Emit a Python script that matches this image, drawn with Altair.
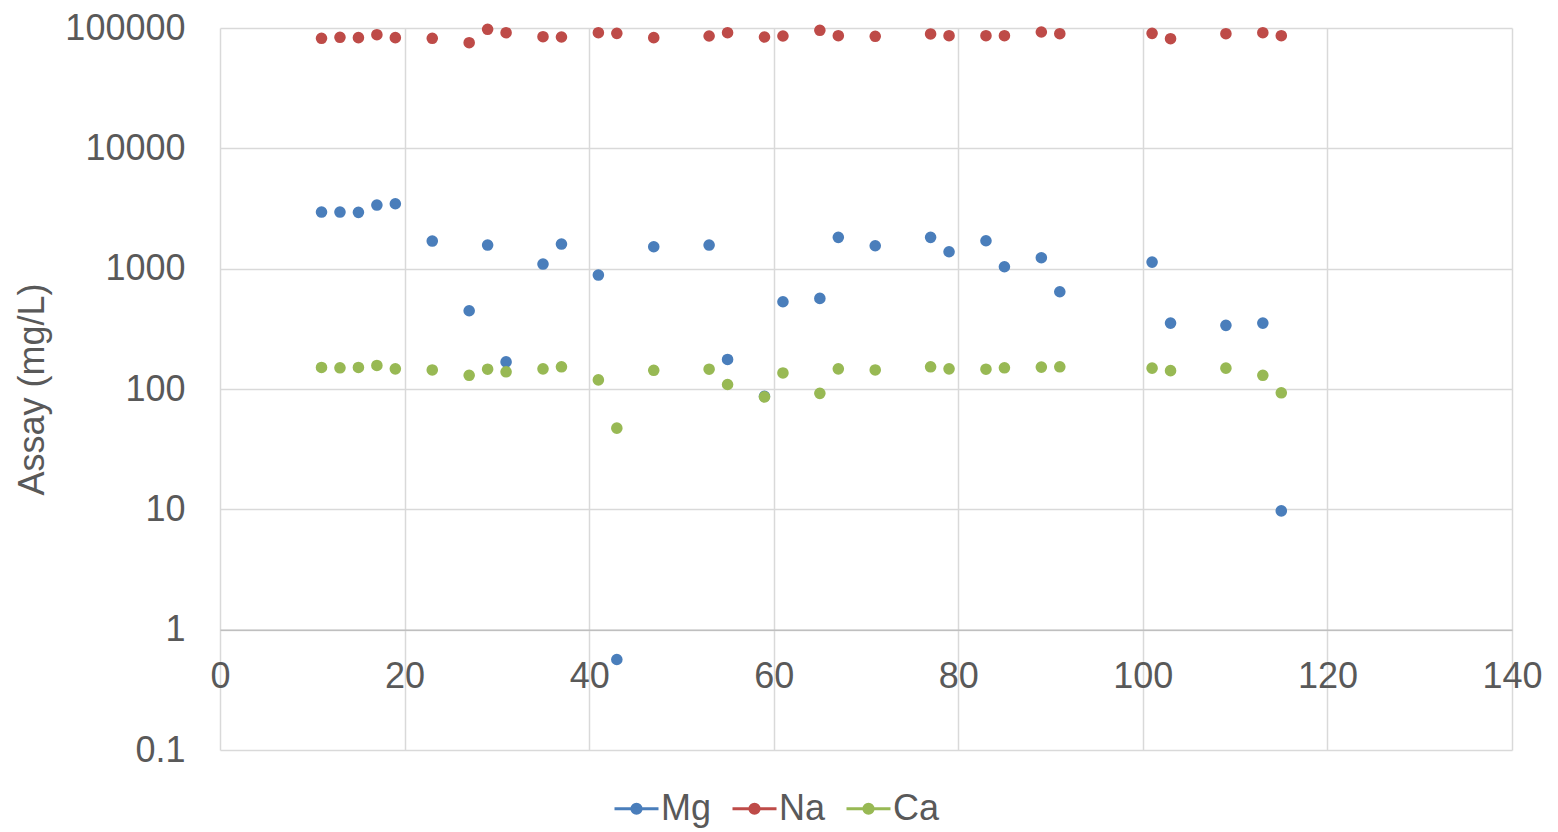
import altair as alt
import pandas as pd

# ---- data ----
x_vals = [11, 13, 15, 17, 19, 23, 27, 29, 31, 35, 37, 41, 43, 47, 53, 55, 59, 61,
          65, 67, 71, 77, 79, 83, 85, 89, 91, 101, 103, 109, 113, 115]
mg = [2954, 2954, 2938, 3379, 3463, 1696, 447, 1571, 168, 1092, 1602, 885, 0.565,
      1521, 1571, 176, 87, 531, 566, 1820, 1550, 1820, 1382, 1706, 1037, 1232, 643,
      1134, 353, 338, 353, 9.7]
na = [82100, 83700, 83100, 88000, 83100, 82100, 75500, 97500, 91400, 84700, 84200,
      91400, 90300, 83100, 85800, 91400, 84200, 85800, 95700, 86300, 85300, 89200,
      86300, 86300, 86300, 92600, 89700, 90300, 81500, 89700, 91400, 86300]
ca = [151, 150, 151, 157, 147, 144, 130, 146, 139, 147, 153, 119, 47.3, 143, 146,
      109, 86, 136, 92, 147, 144, 153, 147, 146, 150, 152, 153, 149, 142, 149, 130, 93]

series = ["Mg", "Na", "Ca"]
colors = ["#4a7ebb", "#be4b48", "#98b954"]
x_ticks = [0, 20, 40, 60, 80, 100, 120, 140]
y_ticks = [0.1, 1, 10, 100, 1000, 10000, 100000]

rows = []
for name, vals in zip(series, [mg, na, ca]):
    for x, v in zip(x_vals, vals):
        rows.append({"x": x, "element": name, "value": v})
df = pd.DataFrame(rows)

FONT = "Liberation Sans"
TXT = "#595959"
GRID = "#d9d9d9"

legend_path = "M-1,0L1,0M0.21,0A0.21,0.21,0,1,1,-0.21,0A0.21,0.21,0,1,1,0.21,0Z"
color_scale = alt.Scale(domain=series, range=colors)


def make_legend():
    return alt.Legend(
        title=None, orient="none", legendX=393, legendY=757, direction="horizontal",
        symbolType=legend_path, symbolSize=1936, symbolStrokeWidth=3,
        labelFontSize=36, labelFont=FONT, labelColor=TXT, labelOffset=1,
        columnPadding=14, padding=0,
    )


chart = alt.Chart(df).mark_point(
    filled=True, opacity=1, size=74, strokeWidth=3
).encode(
    x=alt.X(
        "x:Q",
        scale=alt.Scale(domain=[0, 140], nice=False, zero=False),
        axis=alt.Axis(
            values=x_ticks, title=None, offset=-120.33, labelPadding=30,
            ticks=False, tickSize=0, labelFlush=False, labelOverlap=False,
            domainColor="#bfbfbf", domainWidth=1.5, grid=True, gridColor=GRID,
            gridWidth=1.5, labelFontSize=36, labelColor=TXT, labelFont=FONT,
        ),
    ),
    y=alt.Y(
        "value:Q",
        scale=alt.Scale(type="log", domain=[0.1, 100000], nice=False),
        axis=alt.Axis(
            values=y_ticks, format="~g", title="Assay (mg/L)", domain=False,
            ticks=False, tickSize=0, labelPadding=35, labelFlush=False,
            labelOverlap=False, grid=True, gridColor=GRID, gridWidth=1.5,
            labelFontSize=36, labelColor=TXT, labelFont=FONT,
            titleFontSize=36, titleFont=FONT, titleColor=TXT,
            titleFontWeight="normal", titlePadding=13,
        ),
    ),
    color=alt.Color("element:N", scale=color_scale, sort=series, legend=make_legend()),
    stroke=alt.Stroke("element:N", scale=color_scale, sort=series, legend=make_legend()),
).properties(
    width=1292,
    height=722,
    padding={"left": 212, "top": 20, "right": 30, "bottom": 80},
    autosize="none",
).configure_view(stroke=None)

chart.save("out.html", embed_options={"renderer": "svg", "actions": False})
